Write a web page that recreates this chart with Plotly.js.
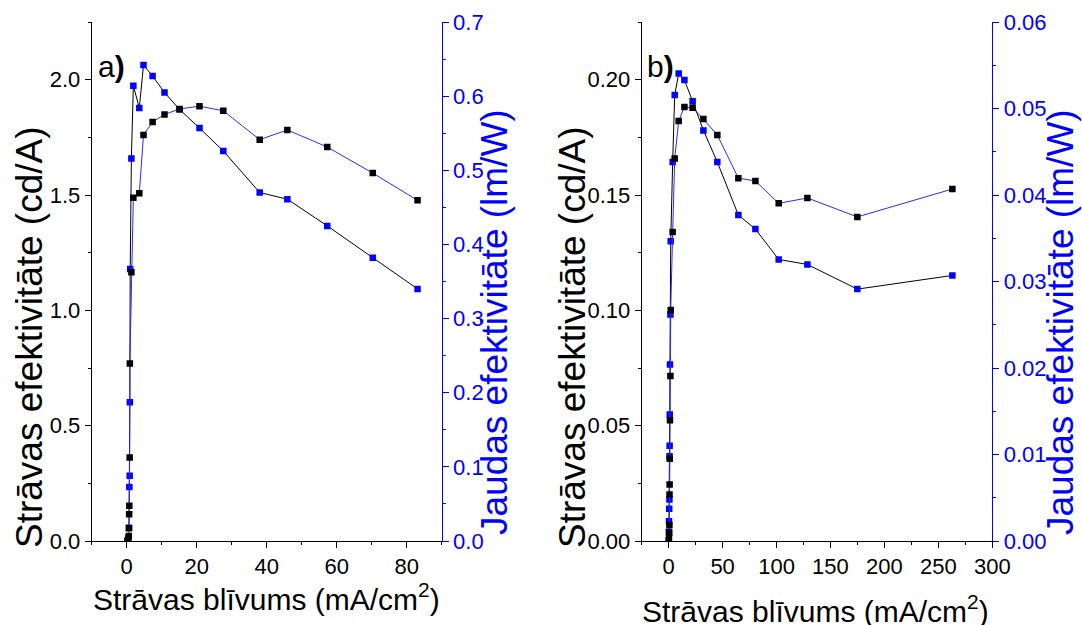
<!DOCTYPE html>
<html>
<head>
<meta charset="utf-8">
<script src="https://cdn.plot.ly/plotly-3.0.1.min.js"></script>
<style>html,body{margin:0;padding:0;background:#fff;}#chart{width:1082px;height:625px;}</style>
</head>
<body>
<div id="chart"></div>
<script>
// Panel a) data
const aCdX = [0.2, 0.5, 0.6, 0.65, 0.7, 0.75, 0.85, 0.9, 1.34, 1.9, 3.6, 4.8, 7.4, 10.8, 15.1, 20.8, 27.6, 38.0, 45.9, 57.3, 70.3, 83.1];
const aCdY = [0.001, 0.013, 0.022, 0.055, 0.116, 0.153, 0.362, 0.77, 1.165, 1.488, 1.508, 1.76, 1.817, 1.849, 1.873, 1.885, 1.865, 1.74, 1.782, 1.708, 1.595, 1.477];
const aLmX = [0.65, 0.75, 0.85, 0.9, 1.0, 1.34, 1.9, 3.6, 4.8, 7.4, 10.8, 15.1, 20.8, 27.6, 38.0, 45.9, 57.3, 70.3, 83.1];
const aLmY = [0.018, 0.073, 0.088, 0.187, 0.367, 0.516, 0.614, 0.584, 0.642, 0.627, 0.605, 0.582, 0.557, 0.526, 0.47, 0.461, 0.425, 0.382, 0.34];

// Panel b) data
const bCdX = [0.05, 0.3, 0.5, 0.7, 0.8, 0.9, 1.0, 1.2, 1.6, 1.9, 3.7, 5.6, 9.3, 14.6, 22.2, 32.2, 45.1, 64.6, 80.4, 102, 128.6, 174.9, 263];
const bCdY = [0.0002, 0.0014, 0.0036, 0.0069, 0.0202, 0.0245, 0.0357, 0.0524, 0.0715, 0.1001, 0.134, 0.1658, 0.1821, 0.1882, 0.1878, 0.1829, 0.176, 0.1573, 0.1561, 0.1464, 0.1487, 0.1405, 0.1526];
const bLmX = [0.2, 0.3, 0.5, 0.7, 0.8, 0.9, 1.0, 1.2, 1.6, 1.9, 3.7, 5.6, 9.3, 14.6, 22.2, 32.2, 45.1, 64.6, 80.4, 102, 128.6, 174.9, 263];
const bLmY = [0.00106, 0.00229, 0.00372, 0.0048, 0.0098, 0.011, 0.01463, 0.02041, 0.02619, 0.03464, 0.04381, 0.05156, 0.05406, 0.05329, 0.05083, 0.04747, 0.04381, 0.03768, 0.03606, 0.03255, 0.03197, 0.02912, 0.0307];

// Text
const xTitle = 'Strāvas blīvums (mA/cm<sup>2</sup>)';
const yLeftTitle = 'Strāvas efektivitāte (cd/A)';
const yRightTitle = 'Jaudas efektivitāte (lm/W)';
const panelA = 'a<b>)</b>';
const panelB = 'b<b>)</b>';

const BLUE = '#0000ff';
const LINEBLUE = '#2a2aff';
const FONT = 'Liberation Sans, Arial, sans-serif';
const W = 1082, H = 625;
const px = v => v / W;
const py = v => (H - v) / H;

const traces = [
  {x: aLmX, y: aLmY, xaxis: 'x', yaxis: 'y', mode: 'lines+markers', type: 'scatter',
   line: {color: '#000', width: 1}, marker: {symbol: 'square', size: 6.5, color: BLUE}},
  {x: aCdX, y: aCdY, xaxis: 'x', yaxis: 'y2', mode: 'lines+markers', type: 'scatter',
   line: {color: LINEBLUE, width: 1}, marker: {symbol: 'square', size: 6.5, color: '#000'}},
  {x: bLmX, y: bLmY, xaxis: 'x2', yaxis: 'y3', mode: 'lines+markers', type: 'scatter',
   line: {color: '#000', width: 1}, marker: {symbol: 'square', size: 6.5, color: BLUE}},
  {x: bCdX, y: bCdY, xaxis: 'x2', yaxis: 'y4', mode: 'lines+markers', type: 'scatter',
   line: {color: LINEBLUE, width: 1}, marker: {symbol: 'square', size: 6.5, color: '#000'}}
];

const yDom = [py(541), py(22)];
const domA = [px(91.7), px(441.7)];
const domB = [px(641.7), px(992.3)];
const tf = c => ({family: FONT, size: 22, color: c});

function xax(dom, range, dtick, minor, anchor) {
  return {domain: dom, range: range, anchor: anchor, tick0: 0, dtick: dtick,
    ticks: 'outside', ticklen: 6, tickwidth: 1, tickcolor: '#000',
    minor: {dtick: minor, tick0: 0, ticks: 'outside', ticklen: 3, tickcolor: '#000', showgrid: false},
    showline: true, linecolor: '#000', linewidth: 1, showgrid: false, zeroline: false,
    tickfont: tf('#000'), fixedrange: true};
}
function xtop(dom, range, dtick, minor, anchor, overlay) {
  return {domain: dom, range: range, anchor: anchor, overlaying: overlay, side: 'top', tick0: 0, dtick: dtick,
    ticks: 'inside', ticklen: 5, tickcolor: '#000', showticklabels: false,
    minor: {dtick: minor, tick0: 0, ticks: 'inside', ticklen: 3, tickcolor: '#000', showgrid: false},
    showline: true, linecolor: '#000', linewidth: 1, showgrid: false, zeroline: false};
}
function yax(range, dtick, minor, side, anchor, color, fmt, overlay) {
  const o = {domain: yDom, range: range, side: side, anchor: anchor, tick0: 0, dtick: dtick,
    tickformat: fmt, ticks: 'outside', ticklen: 6, tickwidth: 1, tickcolor: color,
    minor: {dtick: minor, tick0: 0, ticks: 'outside', ticklen: 3, tickcolor: color, showgrid: false},
    showline: true, linecolor: color, linewidth: 1, showgrid: false, zeroline: false,
    tickfont: tf(color), fixedrange: true};
  if (overlay) o.overlaying = overlay;
  return o;
}

const annFont = (s, c) => ({family: FONT, size: s, color: c});
const YT = 37;
const layout = {
  width: W, height: H,
  margin: {l: 0, r: 0, t: 0, b: 0},
  paper_bgcolor: '#fff', plot_bgcolor: 'rgba(0,0,0,0)',
  showlegend: false,
  xaxis: xax(domA, [-10, 90], 20, 10, 'y'),
  xaxis3: xtop(domA, [-10, 90], 20, 10, 'y', 'x'),
  yaxis: yax([0, 0.7], 0.1, 0.05, 'right', 'x', BLUE, '.1f'),
  yaxis2: yax([0, 2.25], 0.5, 0.25, 'left', 'x', '#000', '.1f', 'y'),
  xaxis2: xax(domB, [-25, 300], 50, 25, 'y3'),
  xaxis4: xtop(domB, [-25, 300], 50, 25, 'y3', 'x2'),
  yaxis3: yax([0, 0.06], 0.01, 0.005, 'right', 'x2', BLUE, '.2f'),
  yaxis4: yax([0, 0.225], 0.05, 0.025, 'left', 'x2', '#000', '.2f', 'y3'),
  annotations: [
    {text: panelA, xref: 'paper', yref: 'paper', x: px(96), y: py(67), xanchor: 'left', yanchor: 'middle', showarrow: false, font: annFont(30, '#000')},
    {text: panelB, xref: 'paper', yref: 'paper', x: px(645), y: py(67), xanchor: 'left', yanchor: 'middle', showarrow: false, font: annFont(30, '#000')},
    {text: xTitle, xref: 'paper', yref: 'paper', x: px(266), y: py(597), xanchor: 'center', yanchor: 'middle', showarrow: false, font: annFont(30, '#000')},
    {text: xTitle, xref: 'paper', yref: 'paper', x: px(815), y: py(609), xanchor: 'center', yanchor: 'middle', showarrow: false, font: annFont(30, '#000')},
    {text: yLeftTitle, xref: 'paper', yref: 'paper', x: px(29), y: py(337), xanchor: 'center', yanchor: 'middle', textangle: -90, showarrow: false, font: annFont(YT, '#000')},
    {text: yRightTitle, xref: 'paper', yref: 'paper', x: px(494), y: py(322), xanchor: 'center', yanchor: 'middle', textangle: -90, showarrow: false, font: annFont(YT, BLUE)},
    {text: yLeftTitle, xref: 'paper', yref: 'paper', x: px(572), y: py(337), xanchor: 'center', yanchor: 'middle', textangle: -90, showarrow: false, font: annFont(YT, '#000')},
    {text: yRightTitle, xref: 'paper', yref: 'paper', x: px(1060), y: py(322), xanchor: 'center', yanchor: 'middle', textangle: -90, showarrow: false, font: annFont(YT, BLUE)}
  ]
};

Plotly.newPlot('chart', traces, layout, {staticPlot: true, displayModeBar: false});
</script>
</body>
</html>
